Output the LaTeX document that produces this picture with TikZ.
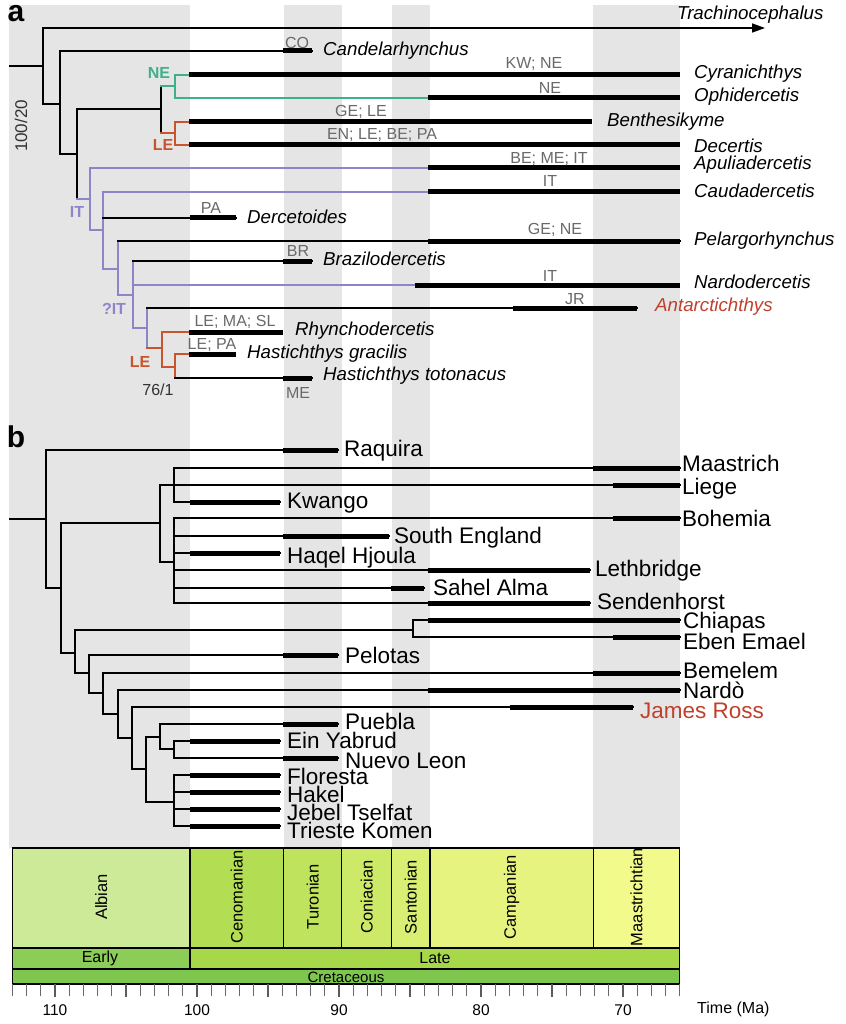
\documentclass[tikz,border=0pt]{standalone}
\usepackage{fontspec}
\setmainfont{Liberation Sans}
\usetikzlibrary{arrows.meta}

\definecolor{band}{RGB}{229,229,229}
\definecolor{codegray}{RGB}{105,105,105}
\definecolor{darkgray}{RGB}{50,50,50}
\definecolor{neclade}{RGB}{64,176,140}
\definecolor{leclade}{RGB}{200,85,45}
\definecolor{itclade}{RGB}{140,134,200}
\definecolor{jrred}{RGB}{192,64,44}
\definecolor{albian}{RGB}{204,234,151}
\definecolor{cenom}{RGB}{179,222,83}
\definecolor{turon}{RGB}{191,227,93}
\definecolor{conia}{RGB}{204,233,104}
\definecolor{santo}{RGB}{217,239,116}
\definecolor{campa}{RGB}{230,244,127}
\definecolor{maast}{RGB}{242,250,140}
\definecolor{early}{RGB}{140,205,87}
\definecolor{late}{RGB}{166,216,74}
\definecolor{creta}{RGB}{127,198,78}

\tikzset{
	br/.style={line width=1.6pt, line cap=rect},
	bar/.style={line width=5pt},
	taxon/.style={font=\fontsize{18.7}{20}\selectfont\itshape, anchor=base west, inner sep=0pt},
	loc/.style={font=\fontsize{22.5}{24}\selectfont, anchor=base west, inner sep=0pt},
	code/.style={font=\fontsize{16}{17}\selectfont, text=codegray, anchor=base, inner sep=0pt},
	clade/.style={font=\fontsize{16}{17}\selectfont\bfseries, inner sep=0pt},
	panel/.style={font=\fontsize{30}{30}\selectfont\bfseries, inner sep=0pt},
	stage/.style={font=\fontsize{16.5}{17}\selectfont, rotate=90, inner sep=0pt},
}

\begin{document}
\begin{tikzpicture}[x=1pt, y=-1pt]
		\useasboundingbox (0,0) rectangle (845,1024);

		% grey stage bands
		\fill[band] (9,5) rectangle (189.9,848);
		\fill[band] (283.6,5) rectangle (341.8,848);
		\fill[band] (391.5,5) rectangle (429.9,848);
		\fill[band] (593.2,5) rectangle (679.8,848);

		% panel a
		\node[panel] (pa) at (16,14) {a};
		\draw[br] (10,66) -- (43,66);
		\draw[br] (43,28) -- (43,104) -- (60,104);
		\draw[br, -{Triangle[length=13pt,width=9pt]}] (43,28) -- (765,28);
		\node[taxon] (trach) at (677,19.5) {Trachinocephalus};
		\node[darkgray, font=\fontsize{17}{17}\selectfont, rotate=90, inner sep=0pt] (sup1) at (21,126) {100/20};

		\draw[br] (60,154) -- (60,51) -- (312,51);
		\draw[bar] (283,51) -- (312,51);
		\node[code] at (297,48.5) {CO};
		\node[taxon] (cand) at (323,55.5) {Candelarhynchus};

		\draw[br] (60,154) -- (77,154);
		\draw[br] (77,109) -- (77,199);
		\draw[br] (77,109) -- (161,109);
		\draw[br] (161,86) -- (161,133);

		\draw[br, neclade] (161,86) -- (175,86);
		\draw[br, neclade] (189,75) -| (175,98) -- (428,98);
		\draw[bar] (189,75) -- (680,75);
		\draw[bar] (428,98) -- (680,98);
		\node[clade, neclade] at (159,73) {NE};
		\node[code] at (534,68.5) {KW; NE};
		\node[code] at (550,93.5) {NE};
		\node[taxon] (cyra) at (694,78.5) {Cyranichthys};
		\node[taxon] (ophi) at (694,101.5) {Ophidercetis};

		\draw[br, leclade] (161,133) -- (175,133);
		\draw[br, leclade] (189,122) -| (175,145) -- (189,145);
		\draw[bar] (189,122) -- (592,122);
		\draw[bar] (189,145) -- (680,145);
		\node[clade, leclade] at (163,145) {LE};
		\node[code] at (361,116.5) {GE; LE};
		\node[code] at (382,139.5) {EN; LE; BE; PA};
		\node[taxon] (bent) at (607,126.5) {Benthesikyme};
		\node[taxon] (dece) at (694,152.5) {Decertis};

		\draw[br, itclade] (77,199) -- (90,199);
		\draw[br, itclade] (428,168) -| (90,230) -- (103,230);
		\draw[bar] (428,168) -- (680,168);
		\draw[br, itclade] (428,192) -| (103,269) -- (118,269);
		\draw[bar] (428,192) -- (680,192);
		\node[clade, itclade] at (77,212) {IT};
		\node[code] at (549,163.5) {BE; ME; IT};
		\node[code] at (550,186.5) {IT};
		\node[taxon] (apul) at (694,170) {Apuliadercetis};
		\node[taxon] (caud) at (694,198) {Caudadercetis};

		\draw[br] (103,218) -- (236,218);
		\draw[bar] (190,218) -- (236,218);
		\node[code] at (211,213.5) {PA};
		\node[taxon] (derc) at (247,224) {Dercetoides};

		\draw[br, itclade] (118,241) -- (118,295) -- (133,295);
		\draw[br] (118,241) -- (680,241);
		\draw[bar] (428,241) -- (680,241);
		\node[code] at (555,234.5) {GE; NE};
		\node[taxon] (pela) at (694,245.5) {Pelargorhynchus};

		\draw[br, itclade] (133,261) -- (133,328) -- (147,328);
		\draw[br, itclade] (133,285) -- (415,285);
		\draw[bar] (415,285) -- (680,285);
		\draw[br] (133,261) -- (312,261);
		\draw[bar] (283,261) -- (312,261);
		\node[clade, itclade] at (114,309) {?IT};
		\node[code] at (298,256.5) {BR};
		\node[code] at (550,281.5) {IT};
		\node[taxon] (braz) at (323,265.5) {Brazilodercetis};
		\node[taxon] (nard) at (694,288.5) {Nardodercetis};

		\draw[br, itclade] (147,308) -- (147,348);
		\draw[br] (147,308) -- (637,308);
		\draw[bar] (513,308) -- (637,308);
		\node[code] at (575,304.5) {JR};
		\node[taxon, jrred] (anta) at (655,311.5) {Antarctichthys};

		\draw[br, leclade] (147,348) -- (162,348);
		\draw[br, leclade] (189,332) -| (162,367) -- (175,367);
		\draw[br, leclade] (189,354) -| (175,378);
		\draw[bar] (189,332) -- (283,332);
		\draw[bar] (189,354) -- (236,354);
		\draw[br] (175,378) -- (312,378);
		\draw[bar] (283,378) -- (312,378);
		\node[clade, leclade] at (140,362) {LE};
		\node[darkgray, font=\fontsize{16}{16}\selectfont, inner sep=0pt] (sup2) at (158,390) {76/1};
		\node[code] at (235,326.5) {LE; MA; SL};
		\node[code] at (212,349.5) {LE; PA};
		\node[code] at (298,398.5) {ME};
		\node[taxon] (rhyn) at (295,335.5) {Rhynchodercetis};
		\node[taxon] (hgra) at (247,358.5) {Hastichthys gracilis};
		\node[taxon] (htot) at (323,380.5) {Hastichthys totonacus};

		% panel b
		\node[panel] (pb) at (16,437) {b};
		\draw[br] (10,519) -- (46,519);
		\draw[br] (338,450) -| (46,588) -- (61,588);
		\draw[bar] (283,450) -- (338,450);
		\node[loc] (raqu) at (344,456.5) {Raquira};

		\draw[br] (61,523) -- (61,653) -- (75,653);
		\draw[br] (61,523) -- (160,523);
		\draw[br] (160,485) -- (160,562) -- (174,562);
		\draw[br] (160,485) -- (680,485);
		\draw[bar] (613,485) -- (680,485);
		\draw[br] (680,468) -| (174,502) -- (280,502);
		\draw[bar] (593,468) -- (680,468);
		\draw[bar] (190,502) -- (280,502);
		\node[loc] (maas) at (682,471.5) {Maastrich};
		\node[loc] (lieg) at (682,494.5) {Liege};
		\node[loc] (kwan) at (287,508.5) {Kwango};

		\draw[br] (174,518) -- (174,603);
		\draw[br] (174,518) -- (680,518);
		\draw[bar] (613,518) -- (680,518);
		\draw[br] (174,536) -- (389,536);
		\draw[bar] (283,536) -- (389,536);
		\draw[br] (174,553) -- (280,553);
		\draw[bar] (190,553) -- (280,553);
		\draw[br] (174,570) -- (590,570);
		\draw[bar] (428,570) -- (590,570);
		\draw[br] (174,588) -- (424,588);
		\draw[bar] (391,588) -- (424,588);
		\draw[br] (174,603) -- (590,603);
		\draw[bar] (428,603) -- (590,603);
		\node[loc] (bohe) at (682,526.5) {Bohemia};
		\node[loc] (soue) at (394,543.5) {South England};
		\node[loc] (haqe) at (287,563.5) {Haqel Hjoula};
		\node[loc] (leth) at (595,576.5) {Lethbridge};
		\node[loc] (sahe) at (433,595.5) {Sahel Alma};
		\node[loc] (send) at (597,609.5) {Sendenhorst};

		\draw[br] (75,630) -- (75,673) -- (89,673);
		\draw[br] (75,630) -- (413,630);
		\draw[br] (413,620) -- (413,637);
		\draw[br] (413,620) -- (680,620);
		\draw[bar] (428,620) -- (680,620);
		\draw[br] (413,637) -- (680,637);
		\draw[bar] (613,637) -- (680,637);
		\node[loc] (chia) at (683,628.5) {Chiapas};
		\node[loc] (eben) at (683,649.5) {Eben Emael};

		\draw[br] (89,655) -- (89,693) -- (103,693);
		\draw[br] (89,655) -- (338,655);
		\draw[bar] (283,655) -- (338,655);
		\node[loc] (pelo) at (345,663.5) {Pelotas};

		\draw[br] (103,673) -- (103,714) -- (118,714);
		\draw[br] (103,673) -- (680,673);
		\draw[bar] (593,673) -- (680,673);
		\node[loc] (beme) at (683,678.5) {Bemelem};

		\draw[br] (118,690) -- (118,738) -- (132,738);
		\draw[br] (118,690) -- (680,690);
		\draw[bar] (428,690) -- (680,690);
		\node[loc] (nardo) at (683,698.5) {Nardò};

		\draw[br] (132,707) -- (132,769) -- (146,769);
		\draw[br] (132,707) -- (633,707);
		\draw[bar] (510,707) -- (633,707);
		\node[loc, jrred] (jame) at (640,718.5) {James Ross};

		\draw[br] (146,737) -- (146,802) -- (174,802);
		\draw[br] (146,737) -- (160,737);
		\draw[br] (160,724) -- (160,749) -- (174,749);
		\draw[br] (160,724) -- (338,724);
		\draw[bar] (283,724) -- (338,724);
		\draw[br] (174,741) -- (174,758);
		\draw[br] (174,741) -- (280,741);
		\draw[bar] (190,741) -- (280,741);
		\draw[br] (174,758) -- (338,758);
		\draw[bar] (283,758) -- (338,758);
		\node[loc] (pueb) at (345,729.5) {Puebla};
		\node[loc] (einy) at (287,748.5) {Ein Yabrud};
		\node[loc] (nuev) at (345,768.5) {Nuevo Leon};

		\draw[br] (174,775) -- (174,826);
		\foreach \y in {775,792,809,826} {
			\draw[br] (174,\y) -- (280,\y);
			\draw[bar] (190,\y) -- (280,\y);
		}
		\node[loc] (flor) at (287,784) {Floresta};
		\node[loc] (hake) at (287,802) {Hakel};
		\node[loc] (jebe) at (287,820) {Jebel Tselfat};
		\node[loc] (trie) at (287,838) {Trieste Komen};

		% time scale
		\foreach \a/\b/\c/\n in {113/100.5/albian/Albian, 100.5/93.9/cenom/Cenomanian, 93.9/89.8/turon/Turonian, 89.8/86.3/conia/Coniacian, 86.3/83.6/santo/Santonian, 83.6/72.1/campa/Campanian, 72.1/66/maast/Maastrichtian} {
			\draw[line width=1.3pt, fill=\c] ({1617-14.2*\a},848) rectangle ({1617-14.2*\b},948);
			\node[stage] at ({1617-7.1*(\a+\b)},897) {\n};
		}
		\draw[line width=1.3pt, fill=early] (12.4,948) rectangle (189.9,969);
		\draw[line width=1.3pt, fill=late] (189.9,948) rectangle (679.8,969);
		\draw[line width=1.3pt, fill=creta] (12.4,969) rectangle (679.8,984);
		\node[font=\fontsize{16}{16}\selectfont, inner sep=0pt] (earl) at (100,958) {Early};
		\node[font=\fontsize{16}{16}\selectfont, inner sep=0pt] (latr) at (435,958) {Late};
		\node[font=\fontsize{15}{15}\selectfont, inner sep=0pt] (cret) at (346,977) {Cretaceous};

		\foreach \t in {66,...,113}
			\draw[line width=1pt, codegray] ({1617-14.2*\t},984) -- ++(0,12);
		\foreach \t in {70,75,...,110}
			\draw[line width=1.1pt, darkgray!80] ({1617-14.2*\t},984) -- ++(0,13);
		\foreach \t in {70,80,...,110}
			\node[font=\fontsize{15.5}{16}\selectfont, inner sep=0pt] at ({1617-14.2*\t},1010) {\t};
		\node[font=\fontsize{16}{16}\selectfont, anchor=west, inner sep=0pt] (time) at (697,1009) {Time (Ma)};

		\end{tikzpicture}
\end{document}
